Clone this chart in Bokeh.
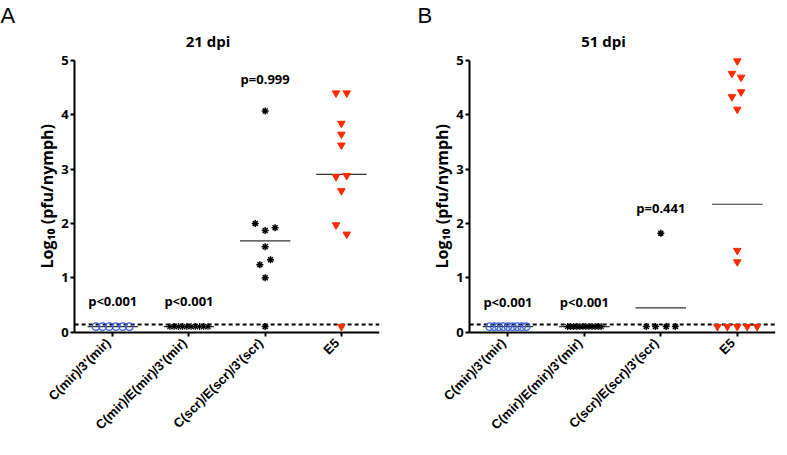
import math
from bokeh.plotting import figure
from bokeh.layouts import row
from bokeh.models import Title, FixedTicker
from bokeh.core.properties import value
from bokeh.embed import file_html
from bokeh.resources import INLINE

categories = ["C(mir)/3'(mir)", "C(mir)/E(mir)/3'(mir)", "C(scr)/E(scr)/3'(scr)", "E5"]
y_ticks = [0, 1, 2, 3, 4, 5]
y_label = "Log\u2081\u2080 (pfu/nymph)"
detection_limit = 0.14

# ---- Panel A : 21 dpi ----
a_title = "21 dpi"
a_mir3 = [0.1, 0.1, 0.1, 0.1, 0.1, 0.1]
a_mirE = [0.1, 0.1, 0.1, 0.1, 0.1, 0.1, 0.1, 0.1, 0.1, 0.1]
a_scr = [4.07, 2.0, 1.87, 1.92, 1.57, 1.24, 1.33, 1.0, 0.1]
a_e5 = [4.4, 4.4, 3.84, 3.64, 3.44, 2.86, 2.88, 2.6, 1.97, 1.8, 0.1]
a_pvals = ["p<0.001", "p<0.001", "p=0.999"]

# ---- Panel B : 51 dpi ----
b_title = "51 dpi"
b_mir3 = [0.1, 0.1, 0.1, 0.1, 0.1, 0.1, 0.1, 0.1, 0.1]
b_mirE = [0.1, 0.1, 0.1, 0.1, 0.1, 0.1, 0.1, 0.1, 0.1, 0.1, 0.1, 0.1]
b_scr = [1.82, 0.1, 0.1, 0.1, 0.1]
b_e5 = [4.99, 4.76, 4.69, 4.42, 4.33, 4.10, 1.50, 1.29, 0.1, 0.1, 0.1, 0.1, 0.1]
b_pvals = ["p<0.001", "p<0.001", "p=0.441"]

# ---- horizontal scatter offsets (layout) ----
a_mir3_dx = [-0.22, -0.132, -0.044, 0.044, 0.132, 0.22]
a_mirE_dx = [-0.25, -0.194, -0.139, -0.083, -0.028, 0.028, 0.083, 0.139, 0.194, 0.25]
a_scr_dx = [0.0, -0.13, 0.0, 0.13, 0.0, -0.07, 0.07, 0.0, 0.0]
a_e5_dx = [-0.07, 0.07, 0.0, 0.0, 0.0, -0.07, 0.07, 0.0, -0.07, 0.07, 0.0]
b_mir3_dx = [-0.24, -0.18, -0.12, -0.06, 0.0, 0.06, 0.12, 0.18, 0.24]
b_mirE_dx = [-0.22, -0.18, -0.14, -0.10, -0.06, -0.02, 0.02, 0.06, 0.10, 0.14, 0.18, 0.22]
b_scr_dx = [0.0, -0.19, -0.07, 0.07, 0.19]
b_e5_dx = [0.0, -0.07, 0.05, 0.05, -0.07, 0.0, 0.0, 0.0, -0.26, -0.13, 0.0, 0.13, 0.26]
a_p_y = [0.57, 0.57, 4.65]
b_p_y = [0.55, 0.55, 2.29]

BOLD_FONT = "Open Sans"
CAT_FONT = "Liberation Sans"
BLUE = "#3a5fe0"
RED = "#ff2a00"

# layout geometry (pixels / data units)
HEIGHT = 440
BORDER_TOP = 49
BORDER_BOTTOM = 10
PX_PER_UNIT = 54.6
X_PX_PER_UNIT = 76.2
Y_TOP = 5.165          # headroom so that the "5" tick label is not clipped
FRAME_PX = HEIGHT - BORDER_TOP - BORDER_BOTTOM
Y_BOTTOM = Y_TOP - FRAME_PX / PX_PER_UNIT
X_LEFT = -1.0          # room left of the y axis for the rotated category names
Y_AXIS_AT = -0.5
Y_LABEL_X = -0.86


def mean(v):
    return sum(v) / len(v)


def make_panel(letter, title, series, offsets, pvals, p_y, width, border_left, border_right,
               letter_offset):
    p = figure(width=width, height=HEIGHT, output_backend="svg", toolbar_location=None,
               x_range=(X_LEFT, 3.5), y_range=(Y_BOTTOM, Y_TOP),
               min_border_left=border_left, min_border_right=border_right,
               min_border_top=BORDER_TOP, min_border_bottom=BORDER_BOTTOM)
    p.outline_line_color = None
    p.grid.visible = False
    p.background_fill_color = "white"
    p.border_fill_color = "white"

    # outer title: panel letter; inner title: time point (centred over the axis span)
    p.title.text = letter
    p.title.align = "left"
    p.title.offset = letter_offset
    p.title.text_font = CAT_FONT
    p.title.text_font_style = "normal"
    p.title.text_font_size = "22px"
    p.title.text_color = "black"
    p.title.standoff = 0
    p.add_layout(Title(text=title, align="center",
                       offset=(Y_AXIS_AT - X_LEFT) * X_PX_PER_UNIT / 2,
                       text_font=BOLD_FONT, text_font_style="bold", text_font_size="15px",
                       text_color="black", standoff=2), "above")

    # y axis at x = -0.5
    p.yaxis.fixed_location = Y_AXIS_AT
    p.yaxis.ticker = FixedTicker(ticks=y_ticks)
    p.yaxis.bounds = (0, 5)
    p.yaxis.major_label_text_font = BOLD_FONT
    p.yaxis.major_label_text_font_style = "bold"
    p.yaxis.major_label_text_font_size = "13px"
    p.yaxis.major_label_text_color = "black"
    p.yaxis.major_label_standoff = 2
    p.text(x=[Y_LABEL_X], y=[2.5], text=[y_label], angle=math.pi / 2,
           text_font=value(BOLD_FONT), text_font_style="bold", text_font_size="16px",
           text_align="center", text_baseline="middle", text_color="black")

    # x axis drawn at y = 0; category names are drawn as rotated texts below it
    p.xaxis.ticker = FixedTicker(ticks=[0, 1, 2, 3])
    p.xaxis.bounds = (-0.5, 3.5)
    p.xaxis.fixed_location = 0
    p.xaxis.major_label_overrides = {i: "" for i in range(4)}
    p.xaxis.major_label_text_font_size = "1px"
    p.xaxis.major_label_standoff = 0
    for ax in (p.xaxis, p.yaxis):
        ax.axis_line_width = 2
        ax.axis_line_color = "black"
        ax.major_tick_line_width = 2
        ax.major_tick_line_color = "black"
        ax.major_tick_out = 4
        ax.major_tick_in = 0
        ax.minor_tick_line_color = None

    p.text(x=[i - 0.06 for i in range(4)], y=[-0.16] * 4, text=categories,
           angle=math.pi / 4, text_font=value(CAT_FONT), text_font_style="bold",
           text_font_size="13px", text_align="right", text_baseline="middle",
           text_color="black")

    # detection limit
    p.line(x=[-0.5, 3.5], y=[detection_limit, detection_limit], line_color="black",
           line_width=2, line_dash="4 3")

    mir3, mirE, scr, e5 = series
    d0, d1, d2, d3 = offsets
    # mean lines
    for i, vals in enumerate(series):
        m = mean(vals)
        p.line(x=[i - 0.33, i + 0.33], y=[m, m], line_color="#333333", line_width=1.2)

    p.scatter(x=[0 + d for d in d0], y=mir3, marker="circle", size=7.5, fill_color=None,
              line_color=BLUE, line_width=1.2)
    p.scatter(x=[1 + d for d in d1], y=mirE, marker="asterisk", size=7, line_color="black",
              line_width=1.1)
    p.scatter(x=[2 + d for d in d2], y=scr, marker="asterisk", size=7, line_color="black",
              line_width=1.5)
    p.scatter(x=[3 + d for d in d3], y=e5, marker="inverted_triangle", size=7.5,
              fill_color=RED, line_color=RED)

    p.text(x=[0, 1, 2], y=p_y, text=pvals, text_font=value(BOLD_FONT),
           text_font_style="bold", text_font_size="13px", text_align="center",
           text_baseline="middle", text_color="black")
    return p


# frame left edges: A at page x 44, B at page x 439 (y axes at 82 and 477)
pa = make_panel("A", a_title, (a_mir3, a_mirE, a_scr, a_e5),
                (a_mir3_dx, a_mirE_dx, a_scr_dx, a_e5_dx), a_pvals, a_p_y,
                width=390, border_left=36, border_right=11, letter_offset=-36)
pb = make_panel("B", b_title, (b_mir3, b_mirE, b_scr, b_e5),
                (b_mir3_dx, b_mirE_dx, b_scr_dx, b_e5_dx), b_pvals, b_p_y,
                width=387, border_left=41, border_right=2, letter_offset=-14)

layout = row(pa, pb)
open("out.html", "w").write(file_html(layout, INLINE))
